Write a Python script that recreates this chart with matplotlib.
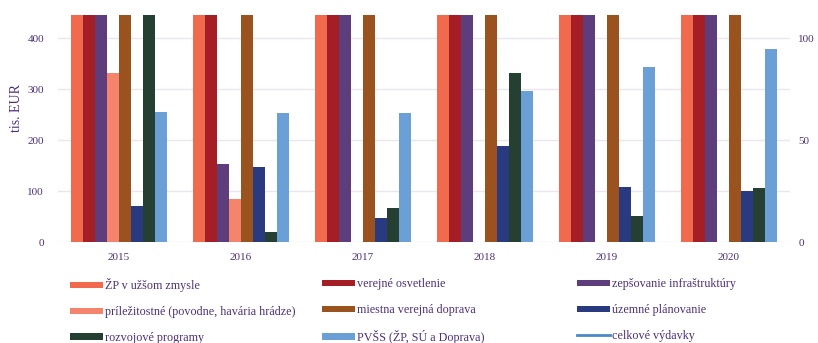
import matplotlib
matplotlib.use("Agg")
import matplotlib.pyplot as plt
import numpy as np
from matplotlib.patches import Patch
from matplotlib.lines import Line2D

years = ["2015", "2016", "2017", "2018", "2019", "2020"]

# values in tis. EUR (bars exceeding the axis top are clipped in the original)
zp_uzsi = [1400, 1350, 1300, 1450, 1500, 1550]
verejne_osvetlenie = [900, 950, 1000, 980, 1020, 1050]
zlepsovanie_infra = [1100, 153, 1200, 1300, 1250, 1400]
prilezitostne = [331, 84, 0, 0, 0, 0]
miestna_doprava = [1800, 1900, 2000, 2100, 2200, 2300]
uzemne_planovanie = [72, 147, 48, 189, 108, 100]
rozvojove_programy = [600, 21, 68, 331, 52, 106]
pvss = [255, 253, 253, 297, 343, 378]
# secondary axis (off-scale in the original, line not visible)
celkove_vydavky = [160, 165, 170, 175, 180, 185]

labels = ["ŽP v užšom zmysle", "verejné osvetlenie", "zepšovanie infraštruktúry",
          "príležitostné (povodne, havária hrádze)", "miestna verejná doprava",
          "územné plánovanie", "rozvojové programy", "PVŠS (ŽP, SÚ a Doprava)",
          "celkové výdavky"]
series = [zp_uzsi, verejne_osvetlenie, zlepsovanie_infra, prilezitostne,
          miestna_doprava, uzemne_planovanie, rozvojove_programy, pvss]
colors = ["#f26a4d", "#a51d25", "#5d3d7b", "#f4846b", "#9a521f",
          "#293a80", "#263f33", "#6aa0d6"]
line_color = "#4a88cc"
txt = "#4f2f78"

plt.rcParams['font.family'] = ['Liberation Serif', 'DejaVu Serif']

fig = plt.figure(figsize=(8.18, 3.43), dpi=100)
ax = fig.add_axes([0.0709, 0.2936, 0.8949, 0.6636])
ax2 = ax.twinx()

x = np.arange(len(years))
w = 0.098
for i, (vals, c) in enumerate(zip(series, colors)):
    ax.bar(x + (i - 3.5) * w, vals, width=w, color=c, zorder=2)

ax2.plot(x, celkove_vydavky, color=line_color, lw=2)

ax.set_xlim(-0.5, len(years) - 0.5)
ax.set_ylim(0, 446)
ax2.set_ylim(0, 111.5)
ax.set_yticks([0, 100, 200, 300, 400])
ax2.set_yticks([0, 50, 100])
ax.set_xticks(x)
ax.set_xticklabels(years)
ax.grid(axis='y', color="#ebe5ef", lw=1, zorder=0)
ax.set_axisbelow(True)
for a in (ax, ax2):
    for s in a.spines.values():
        s.set_visible(False)
    a.tick_params(length=0, colors=txt, labelsize=8)
ax.tick_params(axis='y', pad=10)
ax2.tick_params(axis='y', pad=6)
ax.tick_params(axis='x', pad=8)
fig.text(16 / 818, 1 - 108 / 343, "tis. EUR", color=txt, fontsize=10,
         rotation=90, ha='center', va='center')

handles = [Patch(facecolor=c, edgecolor='none') for c in colors] + \
          [Line2D([0], [0], color=line_color, lw=2)]
col_x = [70 / 818, 322 / 818, 577 / 818]
for col in range(3):
    idx = [col, col + 3, col + 6]
    leg = fig.legend([handles[k] for k in idx], [labels[k] for k in idx],
                     loc='upper left', bbox_to_anchor=(col_x[col], 1 - 278 / 343),
                     frameon=False, fontsize=8.7, handlelength=2.7,
                     handleheight=0.4, handletextpad=0.2, labelspacing=1.15,
                     borderaxespad=0, borderpad=0, labelcolor=txt)

fig.savefig("out.png", dpi=100)
